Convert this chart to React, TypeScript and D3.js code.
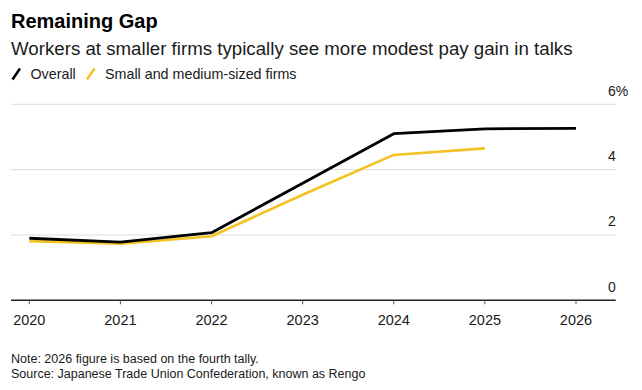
import * as d3 from "d3";

const years = [2020, 2021, 2022, 2023, 2024, 2025, 2026];
const overall = [1.9, 1.78, 2.07, 3.58, 5.1, 5.25, 5.26];
const smallMedium = [1.81, 1.73, 1.96, 3.23, 4.45, 4.65];
const yTicks = [0, 2, 4, 6];

const W = 642;
const H = 390;
const FONT = "'Liberation Sans', Arial, sans-serif";
const YELLOW = "#f2c323";

export default function App() {
  const x = d3.scaleLinear().domain([2020, 2026]).range([29.3, 576]);
  const y = d3.scaleLinear().domain([0, 6]).range([300.3, 104.3]);

  const line = d3
    .line<number>()
    .x((_, i) => x(years[i]))
    .y((d) => y(d));

  return (
    <div style={{ position: "absolute", left: 0, top: 0 }}>
      <svg width={W} height={H} style={{ display: "block", background: "#fff" }} fontFamily={FONT}>
        <text x={11} y={27.5} fontSize={20} fontWeight="bold" fill="#000">
          Remaining Gap
        </text>
        <text x={11} y={55} fontSize={18.7} fill="#1a1a1a">
          Workers at smaller firms typically see more modest pay gain in talks
        </text>

        {/* legend */}
        <line x1={12.5} y1={79.5} x2={20} y2={68.5} stroke="#000" strokeWidth={2.5} />
        <text x={30.5} y={79} fontSize={14.3} fill="#1a1a1a">Overall</text>
        <line x1={87} y1={79.5} x2={94.5} y2={68.5} stroke={YELLOW} strokeWidth={2.5} />
        <text x={105} y={79} fontSize={14.3} fill="#1a1a1a">Small and medium-sized firms</text>

        {/* grid + y labels */}
        {yTicks.map((t) => (
          <g key={t}>
            {t !== 0 && (
              <line x1={11} x2={615.7} y1={y(t)} y2={y(t)} stroke="#dcdcdc" strokeWidth={1} />
            )}
            <text x={608} y={y(t) - 8.7} fontSize={14} fill="#1a1a1a">
              {t === 6 ? `${t}%` : t}
            </text>
          </g>
        ))}

        {/* series */}
        <path d={line(smallMedium) ?? ""} fill="none" stroke={YELLOW} strokeWidth={2.6} strokeLinejoin="round" />
        <path d={line(overall) ?? ""} fill="none" stroke="#000" strokeWidth={2.8} strokeLinejoin="round" />

        {/* x axis */}
        <line x1={11} x2={615.7} y1={y(0)} y2={y(0)} stroke="#222" strokeWidth={1.4} />
        {years.map((yr) => (
          <g key={yr}>
            <line x1={x(yr)} x2={x(yr)} y1={y(0)} y2={y(0) + 4} stroke="#555" strokeWidth={1} />
            <text x={x(yr)} y={325} fontSize={14.5} textAnchor="middle" fill="#1a1a1a">
              {yr}
            </text>
          </g>
        ))}

        <text x={11} y={363} fontSize={12.5} fill="#1a1a1a">Note: 2026 figure is based on the fourth tally.</text>
        <text x={11} y={378} fontSize={12.5} fill="#1a1a1a">Source: Japanese Trade Union Confederation, known as Rengo</text>
      </svg>
    </div>
  );
}
